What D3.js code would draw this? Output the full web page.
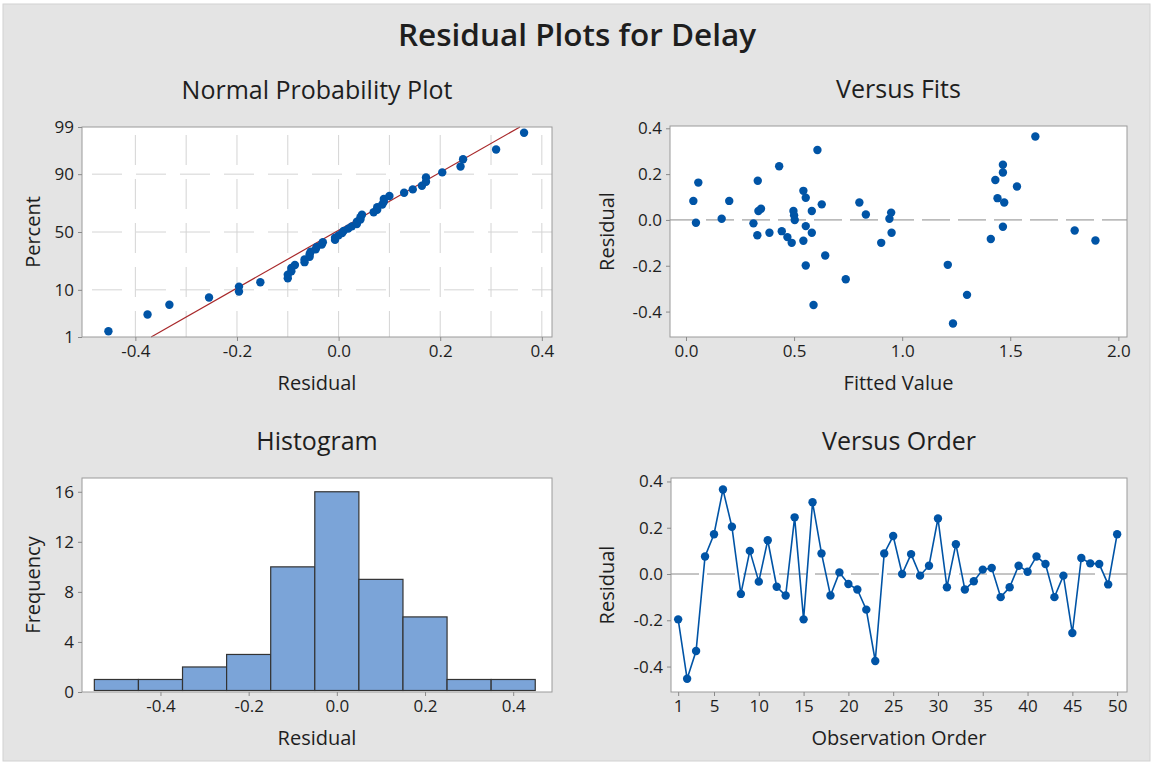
<!DOCTYPE html>
<html>
<head>
<meta charset="utf-8">
<script src="https://cdn.jsdelivr.net/npm/d3@7"></script>
<style>
  body { margin: 0; background: #fff; }
  text { font-family: "Segoe UI", "Open Sans", sans-serif; fill: #1e1e1e; }
</style>
</head>
<body>
<svg id="chart"></svg>
<script>
// residuals in observation order
const residuals = [-0.196, -0.453, -0.333, 0.076, 0.172, 0.365, 0.204, -0.086, 0.100, -0.033,
  0.146, -0.055, -0.093, 0.245, -0.196, 0.310, 0.089, -0.093, 0.007, -0.043,
  -0.067, -0.154, -0.376, 0.089, 0.164, 0.000, 0.086, -0.007, 0.036, 0.240,
  -0.057, 0.129, -0.067, -0.031, 0.019, 0.026, -0.100, -0.057, 0.036, 0.010,
  0.076, 0.043, -0.100, -0.007, -0.255, 0.069, 0.046, 0.043, -0.045, 0.172];

// versus fits
const fittedValues = [0.034, 0.057, 0.046, 0.165, 0.200, 0.312, 0.332, 0.330, 0.335, 0.347,
  0.386, 0.431, 0.443, 0.469, 0.489, 0.497, 0.500, 0.503, 0.543, 0.554,
  0.543, 0.554, 0.554, 0.582, 0.582, 0.608, 0.590, 0.628, 0.644, 0.739,
  0.802, 0.832, 0.903, 0.949, 0.941, 0.951, 1.211, 1.300, 1.235, 1.410,
  1.466, 1.441, 1.472, 1.431, 1.466, 1.466, 1.531, 1.616, 1.798, 1.894];
const fitResiduals = [0.083, 0.163, -0.012, 0.005, 0.083, -0.015, 0.171, -0.067, 0.039, 0.049,
  -0.056, 0.234, -0.049, -0.075, -0.100, 0.039, 0.020, 0.000, 0.127, 0.097,
  -0.091, -0.027, -0.199, 0.039, -0.056, 0.305, -0.371, 0.068, -0.155, -0.259,
  0.076, 0.024, -0.100, 0.032, 0.005, -0.056, -0.196, -0.327, -0.452, -0.083,
  -0.030, 0.095, 0.076, 0.174, 0.207, 0.241, 0.146, 0.364, -0.046, -0.090];

// histogram
const binMids = [-0.5, -0.4, -0.3, -0.2, -0.1, 0.0, 0.1, 0.2, 0.3, 0.4];
const binCounts = [1, 1, 2, 3, 10, 16, 9, 6, 1, 1];
const binWidth = 0.1;

// fitted normal line
const lineMean = -0.006;
const lineSd = 0.156;

// ticks
const percentTicks = [1, 10, 50, 90, 99];
const residualTicks = [-0.4, -0.2, 0, 0.2, 0.4];
const gridTicks = [-0.4, -0.3, -0.2, -0.1, 0, 0.1, 0.2, 0.3, 0.4];
const fitTicks = [0, 0.5, 1, 1.5, 2];
const freqTicks = [0, 4, 8, 12, 16];
const orderTicks = [1, 5, 10, 15, 20, 25, 30, 35, 40, 45, 50];

const width = 1153, height = 768;
const blue = '#0054a6';

// inverse normal cdf (Acklam)
function qnorm(p) {
  const a = [-3.969683028665376e+01, 2.209460984245205e+02, -2.759285104469687e+02, 1.383577518672690e+02, -3.066479806614716e+01, 2.506628277459239e+00];
  const b = [-5.447609879822406e+01, 1.615858368580409e+02, -1.556989798598866e+02, 6.680131188771972e+01, -1.328068155288572e+01];
  const c = [-7.784894002430293e-03, -3.223964580411365e-01, -2.400758277161838e+00, -2.549732539343734e+00, 4.374664141464968e+00, 2.938163982698783e+00];
  const d = [7.784695709041462e-03, 3.224671290700398e-01, 2.445134137142996e+00, 3.754408661907416e+00];
  const pl = 0.02425;
  let q, r;
  if (p < pl) {
    q = Math.sqrt(-2 * Math.log(p));
    return (((((c[0] * q + c[1]) * q + c[2]) * q + c[3]) * q + c[4]) * q + c[5]) / ((((d[0] * q + d[1]) * q + d[2]) * q + d[3]) * q + 1);
  } else if (p <= 1 - pl) {
    q = p - 0.5; r = q * q;
    return (((((a[0] * r + a[1]) * r + a[2]) * r + a[3]) * r + a[4]) * r + a[5]) * q / (((((b[0] * r + b[1]) * r + b[2]) * r + b[3]) * r + b[4]) * r + 1);
  }
  q = Math.sqrt(-2 * Math.log(1 - p));
  return -(((((c[0] * q + c[1]) * q + c[2]) * q + c[3]) * q + c[4]) * q + c[5]) / ((((d[0] * q + d[1]) * q + d[2]) * q + d[3]) * q + 1);
}

const svg = d3.select('#chart').attr('width', width).attr('height', height);

svg.append('rect')
  .attr('x', 3).attr('y', 4).attr('width', 1147).attr('height', 757)
  .attr('fill', '#e4e4e4').attr('stroke', '#d2d2d2');

svg.append('text')
  .attr('x', 577).attr('y', 46)
  .attr('text-anchor', 'middle')
  .style('font-size', '31.5px').style('font-weight', '600')
  .text('Residual Plots for Delay');

const panels = {
  normal: { x0: 82, x1: 552, y0: 127, y1: 337, title: 'Normal Probability Plot', xLabel: 'Residual', yLabel: 'Percent', yLabelX: 33 },
  fits: { x0: 670, x1: 1127, y0: 126, y1: 337, title: 'Versus Fits', xLabel: 'Fitted Value', yLabel: 'Residual', yLabelX: 607 },
  hist: { x0: 82, x1: 552, y0: 478, y1: 692, title: 'Histogram', xLabel: 'Residual', yLabel: 'Frequency', yLabelX: 33 },
  order: { x0: 671, x1: 1127, y0: 478, y1: 692, title: 'Versus Order', xLabel: 'Observation Order', yLabel: 'Residual', yLabelX: 607 }
};

function drawPanel(p) {
  const g = svg.append('g');
  g.append('rect')
    .attr('x', p.x0).attr('y', p.y0)
    .attr('width', p.x1 - p.x0).attr('height', p.y1 - p.y0)
    .attr('fill', '#fff');
  svg.append('text')
    .attr('x', (p.x0 + p.x1) / 2).attr('y', p.y0 - 28)
    .attr('text-anchor', 'middle')
    .style('font-size', '25px')
    .text(p.title);
  svg.append('text')
    .attr('x', (p.x0 + p.x1) / 2).attr('y', p.y1 + 53)
    .attr('text-anchor', 'middle')
    .style('font-size', '20px')
    .text(p.xLabel);
  svg.append('text')
    .attr('transform', `translate(${p.yLabelX}, ${(p.y0 + p.y1) / 2}) rotate(-90)`)
    .attr('dy', '0.35em')
    .attr('text-anchor', 'middle')
    .style('font-size', '20px')
    .text(p.yLabel);
  return g;
}

function drawBorder(p) {
  svg.append('rect')
    .attr('x', p.x0).attr('y', p.y0)
    .attr('width', p.x1 - p.x0).attr('height', p.y1 - p.y0)
    .attr('fill', 'none').attr('stroke', '#9a9a9a');
}

function styleAxis(sel) {
  sel.select('.domain').remove();
  sel.selectAll('.tick line').attr('stroke', '#8a8a8a');
  sel.selectAll('.tick text').style('font-size', '17px').style('font-family', '"Segoe UI", "Open Sans", sans-serif').attr('fill', '#1e1e1e');
}

const fmt1 = d => d.toFixed(1);

// ---- normal probability plot
{
  const p = panels.normal;
  const g = drawPanel(p);
  const x = d3.scaleLinear().domain([-0.505, 0.42]).range([p.x0, p.x1]);
  const y = d3.scaleLinear().domain([qnorm(0.01), qnorm(0.99)]).range([p.y1, p.y0]);

  g.selectAll('.vgrid').data(gridTicks).join('line')
    .attr('x1', d => x(d)).attr('x2', d => x(d))
    .attr('y1', p.y0).attr('y2', p.y1)
    .attr('stroke', '#d4d4d4').attr('stroke-dasharray', '30,14').attr('stroke-dashoffset', -8);
  g.selectAll('.hgrid').data([10, 50, 90]).join('line')
    .attr('x1', p.x0).attr('x2', p.x1)
    .attr('y1', d => y(qnorm(d / 100))).attr('y2', d => y(qnorm(d / 100)))
    .attr('stroke', '#d4d4d4').attr('stroke-dasharray', '30,14').attr('stroke-dashoffset', -10);

  const zs = [qnorm(0.01), qnorm(0.99)];
  g.append('line')
    .attr('x1', x(lineMean + lineSd * zs[0])).attr('y1', y(zs[0]))
    .attr('x2', x(lineMean + lineSd * zs[1])).attr('y2', y(zs[1]))
    .attr('stroke', '#a8282a').attr('stroke-width', 1.2);

  const sorted = residuals.slice().sort(d3.ascending);
  const n = sorted.length;
  g.selectAll('.pt').data(sorted).join('circle')
    .attr('cx', d => x(d))
    .attr('cy', (d, i) => y(qnorm((i + 1 - 0.3) / (n + 0.4))))
    .attr('r', 4.2).attr('fill', blue);

  drawBorder(p);
  svg.append('g').attr('transform', `translate(0,${p.y1})`)
    .call(d3.axisBottom(x).tickValues(residualTicks).tickFormat(fmt1).tickSize(4).tickPadding(4))
    .call(styleAxis);
  svg.append('g').attr('transform', `translate(${p.x0},0)`)
    .call(d3.axisLeft(y).tickValues(percentTicks.map(d => qnorm(d / 100))).tickFormat((d, i) => percentTicks[i]).tickSize(4).tickPadding(4))
    .call(styleAxis);
}

// ---- versus fits
{
  const p = panels.fits;
  const g = drawPanel(p);
  const x = d3.scaleLinear().domain([-0.074, 2.04]).range([p.x0, p.x1]);
  const y = d3.scaleLinear().domain([-0.511, 0.41]).range([p.y1, p.y0]);

  g.append('line')
    .attr('x1', p.x0).attr('x2', p.x1).attr('y1', y(0)).attr('y2', y(0))
    .attr('stroke', '#8a8a8a').attr('stroke-dasharray', '28,8');

  g.selectAll('.pt').data(fittedValues).join('circle')
    .attr('cx', d => x(d))
    .attr('cy', (d, i) => y(fitResiduals[i]))
    .attr('r', 4.2).attr('fill', blue);

  drawBorder(p);
  svg.append('g').attr('transform', `translate(0,${p.y1})`)
    .call(d3.axisBottom(x).tickValues(fitTicks).tickFormat(fmt1).tickSize(4).tickPadding(4))
    .call(styleAxis);
  svg.append('g').attr('transform', `translate(${p.x0},0)`)
    .call(d3.axisLeft(y).tickValues(residualTicks).tickFormat(fmt1).tickSize(4).tickPadding(4))
    .call(styleAxis);
}

// ---- histogram
{
  const p = panels.hist;
  const g = drawPanel(p);
  const x = d3.scaleLinear().domain([-0.578, 0.488]).range([p.x0, p.x1]);
  const y = d3.scaleLinear().domain([0, 17.1]).range([p.y1, p.y0]);

  g.selectAll('.bar').data(binMids).join('rect')
    .attr('x', d => x(d - binWidth / 2))
    .attr('width', d => x(d + binWidth / 2) - x(d - binWidth / 2))
    .attr('y', (d, i) => y(binCounts[i]))
    .attr('height', (d, i) => y(0) - y(binCounts[i]) - 1.5)
    .attr('fill', '#7ba4d8').attr('stroke', '#333').attr('stroke-width', 1.2);

  drawBorder(p);
  svg.append('g').attr('transform', `translate(0,${p.y1})`)
    .call(d3.axisBottom(x).tickValues(residualTicks).tickFormat(fmt1).tickSize(4).tickPadding(4))
    .call(styleAxis);
  svg.append('g').attr('transform', `translate(${p.x0},0)`)
    .call(d3.axisLeft(y).tickValues(freqTicks).tickSize(4).tickPadding(4))
    .call(styleAxis);
}

// ---- versus order
{
  const p = panels.order;
  const g = drawPanel(p);
  const x = d3.scaleLinear().domain([0.2, 51.1]).range([p.x0, p.x1]);
  const y = d3.scaleLinear().domain([-0.51, 0.415]).range([p.y1, p.y0]);

  g.append('line')
    .attr('x1', p.x0).attr('x2', p.x1).attr('y1', y(0)).attr('y2', y(0))
    .attr('stroke', '#8a8a8a').attr('stroke-dasharray', '28,8');

  const line = d3.line().x((d, i) => x(i + 1)).y(d => y(d));
  g.append('path').datum(residuals)
    .attr('d', line)
    .attr('fill', 'none').attr('stroke', blue).attr('stroke-width', 1.6);

  g.selectAll('.pt').data(residuals).join('circle')
    .attr('cx', (d, i) => x(i + 1))
    .attr('cy', d => y(d))
    .attr('r', 4.2).attr('fill', blue);

  drawBorder(p);
  svg.append('g').attr('transform', `translate(0,${p.y1})`)
    .call(d3.axisBottom(x).tickValues(orderTicks).tickSize(4).tickPadding(4))
    .call(styleAxis);
  svg.append('g').attr('transform', `translate(${p.x0},0)`)
    .call(d3.axisLeft(y).tickValues(residualTicks).tickFormat(fmt1).tickSize(4).tickPadding(4))
    .call(styleAxis);
}
</script>
</body>
</html>
